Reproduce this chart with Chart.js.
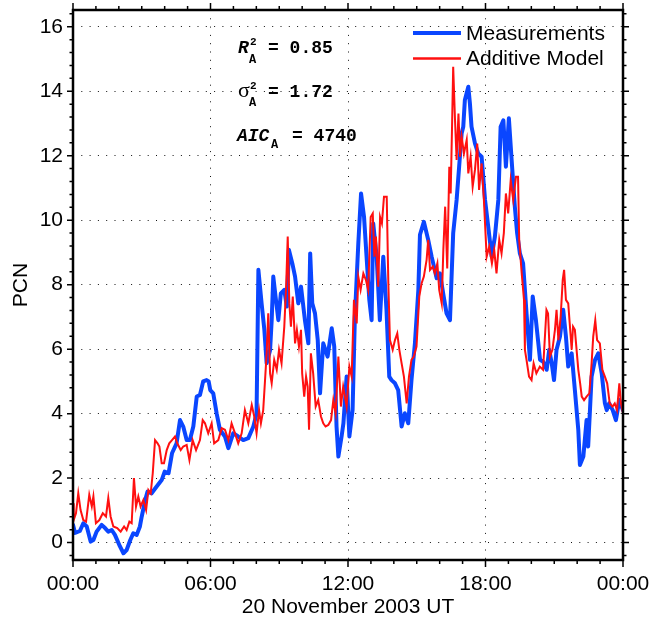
<!DOCTYPE html>
<html>
<head>
<meta charset="utf-8">
<script src="https://cdn.jsdelivr.net/npm/chart.js@4.4.0/dist/chart.umd.min.js"></script>
<style>
  html, body { margin: 0; padding: 0; background: #fff; }
</style>
</head>
<body>
<canvas id="chart" width="651" height="622"></canvas>
<script>
// PCN index, 20 November 2003 — measurements vs. additive model (hours UT)

const measTimes = [
  0.00, 0.09, 0.30, 0.45, 0.60, 0.77, 0.89, 1.03, 1.25, 1.40, 1.54, 1.69, 1.83, 2.05, 2.20, 2.34,
  2.50, 2.63, 2.78, 2.92, 3.00, 3.15, 3.25, 3.43, 3.65, 3.87, 4.00, 4.17, 4.32, 4.52, 4.67, 4.81,
  4.96, 5.10, 5.25, 5.40, 5.54, 5.68, 5.83, 5.92, 5.99, 6.12, 6.27, 6.41, 6.63, 6.78, 6.99, 7.21,
  7.43, 7.65, 7.87, 8.01, 8.09, 8.23, 8.35, 8.45, 8.60, 8.67, 8.74, 8.84, 8.96, 9.07, 9.22, 9.33,
  9.42, 9.57, 9.69, 9.83, 9.95, 10.12, 10.27, 10.35, 10.44, 10.56, 10.68, 10.78, 10.92, 11.11, 11.29, 11.40,
  11.50, 11.58, 11.72, 11.80, 11.94, 12.06, 12.20, 12.30, 12.45, 12.57, 12.70, 12.81, 12.93, 13.03, 13.10, 13.25,
  13.39, 13.54, 13.68, 13.80, 13.90, 14.05, 14.19, 14.34, 14.48, 14.63, 14.77, 14.92, 15.07, 15.14, 15.31, 15.50,
  15.65, 15.87, 16.01, 16.16, 16.30, 16.45, 16.52, 16.59, 16.74, 16.85, 16.96, 17.03, 17.10, 17.25, 17.32, 17.39,
  17.54, 17.68, 17.83, 17.98, 18.12, 18.27, 18.41, 18.56, 18.66, 18.78, 18.89, 19.02, 19.14, 19.28, 19.38, 19.50,
  19.64, 19.79, 19.94, 20.06, 20.20, 20.38, 20.52, 20.67, 20.78, 20.89, 20.99, 21.10, 21.25, 21.39, 21.51, 21.61,
  21.76, 21.90, 22.05, 22.12, 22.27, 22.41, 22.48, 22.63, 22.78, 22.92, 23.07, 23.21, 23.29, 23.40, 23.55, 23.69,
  23.84, 24.00
];
const measValues = [
  0.55, 0.30, 0.36, 0.60, 0.50, 0.03, 0.08, 0.34, 0.55, 0.45, 0.34, 0.39, 0.24, -0.12, -0.33, -0.23,
  0.08, 0.29, 0.24, 0.50, 0.81, 1.32, 1.58, 1.53, 1.74, 1.94, 2.20, 2.15, 2.77, 3.08, 3.80, 3.60,
  3.18, 3.18, 3.60, 4.53, 4.58, 5.00, 5.04, 5.00, 4.73, 4.63, 4.00, 3.50, 3.29, 2.93, 3.39, 3.29,
  3.18, 3.24, 3.60, 4.00, 8.46, 7.42, 6.60, 5.56, 5.97, 6.90, 8.25, 7.63, 6.90, 7.73, 7.84, 7.32,
  9.08, 8.66, 8.25, 7.42, 7.94, 6.90, 6.18, 8.97, 7.42, 7.11, 6.28, 4.63, 6.18, 5.77, 6.65, 6.08,
  3.60, 2.67, 3.29, 3.70, 5.15, 3.29, 4.11, 7.00, 9.28, 10.83, 10.10, 8.87, 7.53, 6.90, 9.90, 8.87,
  6.90, 8.87, 7.21, 5.15, 5.04, 4.94, 4.73, 3.60, 4.01, 3.70, 5.04, 6.18, 7.84, 9.55, 9.95, 9.39,
  8.87, 8.20, 8.35, 7.70, 7.11, 6.90, 8.25, 9.60, 10.63, 11.66, 12.70, 12.90, 13.73, 14.14, 13.62, 12.90,
  12.38, 12.07, 11.97, 10.63, 9.80, 8.87, 9.49, 10.63, 12.90, 13.10, 11.66, 13.16, 11.87, 10.42, 9.60, 8.97,
  8.66, 7.11, 5.67, 7.63, 6.90, 5.67, 5.61, 5.36, 5.98, 5.56, 5.04, 5.98, 6.39, 7.22, 6.39, 5.46,
  5.87, 4.73, 3.49, 2.41, 2.67, 3.80, 2.98, 5.15, 5.67, 5.87, 5.25, 4.32, 4.11, 4.32, 4.11, 3.80,
  4.42, 4.10
];

const modelTimes = [
  0.00, 0.03, 0.13, 0.23, 0.33, 0.45, 0.57, 0.71, 0.82, 0.89, 1.00, 1.15, 1.30, 1.44, 1.54, 1.64,
  1.76, 1.93, 2.08, 2.23, 2.34, 2.46, 2.56, 2.66, 2.75, 2.85, 2.95, 3.07, 3.19, 3.29, 3.39, 3.48,
  3.58, 3.69, 3.77, 3.87, 3.97, 4.09, 4.20, 4.32, 4.45, 4.55, 4.70, 4.81, 4.96, 5.08, 5.22, 5.37,
  5.54, 5.66, 5.76, 5.90, 6.05, 6.16, 6.34, 6.49, 6.63, 6.78, 6.92, 7.07, 7.21, 7.36, 7.50, 7.65,
  7.80, 7.91, 8.01, 8.12, 8.20, 8.30, 8.38, 8.45, 8.52, 8.60, 8.67, 8.78, 8.89, 8.99, 9.10, 9.22,
  9.30, 9.37, 9.44, 9.51, 9.59, 9.69, 9.77, 9.86, 9.95, 10.00, 10.09, 10.17, 10.24, 10.30, 10.38, 10.48,
  10.59, 10.70, 10.82, 10.92, 11.02, 11.14, 11.26, 11.36, 11.46, 11.58, 11.69, 11.79, 11.94, 12.06, 12.16, 12.26,
  12.38, 12.45, 12.55, 12.67, 12.78, 12.88, 12.99, 13.08, 13.15, 13.22, 13.32, 13.40, 13.48, 13.57, 13.69, 13.76,
  13.83, 13.95, 14.05, 14.15, 14.24, 14.34, 14.44, 14.56, 14.66, 14.77, 14.87, 14.99, 15.11, 15.21, 15.31, 15.43,
  15.50, 15.58, 15.70, 15.79, 15.90, 15.98, 16.09, 16.16, 16.24, 16.33, 16.42, 16.48, 16.54, 16.59, 16.67, 16.74,
  16.82, 16.89, 16.96, 17.06, 17.18, 17.25, 17.35, 17.44, 17.54, 17.64, 17.72, 17.83, 17.93, 18.05, 18.16, 18.28,
  18.38, 18.48, 18.60, 18.70, 18.80, 18.89, 18.99, 19.10, 19.21, 19.33, 19.42, 19.47, 19.58, 19.68, 19.72, 19.79,
  19.90, 20.01, 20.10, 20.22, 20.37, 20.51, 20.66, 20.73, 20.81, 20.92, 21.03, 21.10, 21.18, 21.28, 21.37, 21.43,
  21.51, 21.61, 21.76, 21.82, 21.90, 22.05, 22.13, 22.20, 22.30, 22.41, 22.53, 22.63, 22.70, 22.79, 22.87, 22.99,
  23.10, 23.21, 23.31, 23.42, 23.54, 23.64, 23.74, 23.84, 23.91, 24.00
];
const modelValues = [
  1.22, 0.70, 0.91, 1.53, 1.01, 0.70, 0.65, 1.48, 1.12, 1.43, 0.60, 0.70, 0.91, 0.81, 1.38, 0.81,
  0.50, 0.45, 0.34, 0.50, 0.39, 0.65, 0.60, 2.00, 1.12, 1.43, 1.12, 1.32, 1.01, 1.63, 1.53, 2.15,
  3.18, 3.08, 2.98, 2.46, 2.46, 2.87, 3.08, 3.18, 3.29, 3.08, 2.87, 2.98, 3.03, 2.56, 3.18, 2.87,
  3.18, 3.80, 3.70, 3.39, 3.70, 3.08, 3.18, 3.55, 3.50, 3.18, 3.70, 3.39, 3.08, 3.39, 4.11, 3.70,
  4.27, 3.91, 3.39, 4.11, 3.70, 4.11, 5.04, 5.87, 7.11, 5.25, 4.94, 5.67, 5.36, 5.98, 5.56, 6.70,
  7.94, 9.49, 7.42, 6.70, 7.63, 6.18, 6.60, 6.08, 6.60, 5.25, 4.53, 5.15, 4.84, 3.50, 5.87, 5.25,
  4.22, 4.42, 3.91, 3.70, 3.60, 3.65, 3.80, 4.42, 4.01, 5.77, 4.22, 4.84, 4.22, 5.46, 5.15, 7.53,
  6.80, 8.25, 7.84, 8.35, 8.15, 7.84, 10.10, 10.21, 8.87, 9.49, 7.94, 10.10, 9.90, 10.73, 10.73, 8.04,
  6.28, 5.98, 6.28, 6.49, 5.98, 5.56, 5.15, 4.32, 5.15, 5.67, 5.77, 6.08, 7.63, 8.04, 8.25, 8.77,
  9.39, 8.46, 8.56, 8.35, 8.66, 7.84, 7.42, 9.08, 10.42, 8.50, 11.66, 10.83, 12.90, 14.76, 13.10, 11.87,
  13.31, 11.97, 12.59, 12.07, 12.49, 11.45, 11.97, 11.04, 11.56, 12.38, 10.94, 11.76, 10.63, 8.87, 9.18, 8.66,
  9.08, 8.35, 9.39, 8.97, 9.60, 10.83, 10.21, 11.24, 10.63, 11.35, 11.35, 9.39, 8.35, 7.53, 5.98, 5.67,
  5.15, 5.04, 5.56, 5.25, 5.46, 5.36, 7.22, 7.11, 5.77, 5.98, 6.60, 7.22, 6.28, 7.01, 8.15, 8.46,
  7.53, 7.42, 5.98, 6.70, 6.60, 5.36, 4.94, 4.53, 4.42, 4.53, 4.63, 5.56, 6.39, 6.90, 6.28, 6.18,
  5.36, 5.15, 4.94, 4.32, 4.22, 4.32, 4.11, 4.94, 4.32, 4.01
];

const xTickHours = [0, 6, 12, 18, 24];
const xTickLabels = ['00:00', '06:00', '12:00', '18:00', '00:00'];
const yTickValues = [0, 2, 4, 6, 8, 10, 12, 14, 16];
const seriesNames = ['Measurements', 'Additive Model'];
const statValues = ['0.85', '1.72', '4740'];

const BLUE = '#0a46ff';
const RED = '#ff1010';
const SANS = '"Liberation Sans", Arial, sans-serif';
const MONO = '"Liberation Mono", "Courier New", monospace';

const toPoints = (ts, vs) => ts.map((t, i) => ({ x: t, y: vs[i] }));

// frame round the plot with outward ticks on all four sides
const frameTicks = {
  id: 'frameTicks',
  afterDraw(chart) {
    const { ctx, chartArea: a, scales: { x, y } } = chart;
    ctx.save();
    ctx.strokeStyle = '#000';
    ctx.lineWidth = 1.5;
    ctx.beginPath();
    for (let h = 0; h <= 24; h++) {
      const px = x.getPixelForValue(h);
      const len = h % 6 === 0 ? 7 : 4;
      ctx.moveTo(px, a.bottom); ctx.lineTo(px, a.bottom + len);
      ctx.moveTo(px, a.top); ctx.lineTo(px, a.top - len);
    }
    for (let k = -1; k <= 41; k++) {
      const py = y.getPixelForValue(k * 0.4);
      const len = k % 5 === 0 ? 6 : 3.5;
      ctx.moveTo(a.left, py); ctx.lineTo(a.left - len, py);
      ctx.moveTo(a.right, py); ctx.lineTo(a.right + len, py);
    }
    ctx.stroke();
    ctx.lineWidth = 2.5;
    ctx.strokeRect(a.left, a.top, a.right - a.left, a.bottom - a.top);
    ctx.restore();
  }
};

// fit statistics in the upper left
const statsText = {
  id: 'statsText',
  afterDraw(chart) {
    const { ctx, chartArea: a } = chart;
    const x0 = a.left + 165;
    ctx.save();
    ctx.fillStyle = '#000';
    ctx.textBaseline = 'alphabetic';
    // R^2_A
    ctx.font = 'italic bold 18px ' + MONO;
    ctx.fillText('R', x0, a.top + 43);
    ctx.font = 'bold 11px ' + MONO;
    ctx.fillText('2', x0 + 12, a.top + 35);
    ctx.font = 'bold 12px ' + MONO;
    ctx.fillText('A', x0 + 11, a.top + 53);
    ctx.font = 'bold 18px ' + MONO;
    ctx.fillText('= ' + statValues[0], x0 + 30, a.top + 43);
    // sigma^2_A
    ctx.font = '22px "Liberation Serif", serif';
    ctx.fillText('σ', x0, a.top + 87);
    ctx.font = 'bold 11px ' + MONO;
    ctx.fillText('2', x0 + 12, a.top + 79);
    ctx.font = 'bold 12px ' + MONO;
    ctx.fillText('A', x0 + 11, a.top + 96);
    ctx.font = 'bold 18px ' + MONO;
    ctx.fillText('= ' + statValues[1], x0 + 30, a.top + 87);
    // AIC_A
    ctx.font = 'italic bold 18px ' + MONO;
    ctx.fillText('AIC', x0 - 1, a.top + 131);
    ctx.font = 'bold 12px ' + MONO;
    ctx.fillText('A', x0 + 33, a.top + 138);
    ctx.font = 'bold 18px ' + MONO;
    ctx.fillText('= ' + statValues[2], x0 + 54, a.top + 131);
    ctx.restore();
  }
};

// legend inside the plot, top right
const insideLegend = {
  id: 'insideLegend',
  afterDraw(chart) {
    const { ctx, chartArea: a } = chart;
    const lx = a.right - 210;
    const rows = [
      { name: seriesNames[0], color: BLUE, width: 4, y: a.top + 23 },
      { name: seriesNames[1], color: RED, width: 2.5, y: a.top + 48.5 },
    ];
    ctx.save();
    ctx.font = '21px ' + SANS;
    ctx.textBaseline = 'middle';
    ctx.fillStyle = '#000';
    rows.forEach((r) => {
      ctx.strokeStyle = r.color;
      ctx.lineWidth = r.width;
      ctx.beginPath();
      ctx.moveTo(lx, r.y);
      ctx.lineTo(lx + 48, r.y);
      ctx.stroke();
      ctx.fillText(r.name, lx + 53, r.y + 1);
    });
    ctx.restore();
  }
};

new Chart(document.getElementById('chart'), {
  type: 'line',
  data: {
    datasets: [
      {
        label: seriesNames[0],
        data: toPoints(measTimes, measValues),
        borderColor: BLUE,
        borderWidth: 4,
        borderJoinStyle: 'round',
        borderCapStyle: 'round',
        pointRadius: 0,
        tension: 0,
        order: 2,
      },
      {
        label: seriesNames[1],
        data: toPoints(modelTimes, modelValues),
        borderColor: RED,
        borderWidth: 2,
        pointRadius: 0,
        tension: 0,
        order: 1,
      },
    ],
  },
  options: {
    responsive: false,
    devicePixelRatio: 1,
    animation: false,
    layout: { padding: { top: 10, right: 28, left: 0, bottom: 0 } },
    scales: {
      x: {
        type: 'linear',
        min: 0,
        max: 24,
        afterBuildTicks: (s) => { s.ticks = xTickHours.map((v) => ({ value: v })); },
        afterFit: (s) => { s.height = 62; s.paddingLeft = 0; s.paddingRight = 0; },
        ticks: {
          color: '#000',
          font: { family: SANS, size: 21 },
          padding: 12,
          maxRotation: 0,
          autoSkip: false,
          callback: (v, i) => xTickLabels[i],
        },
        grid: { color: '#111', lineWidth: 1, drawTicks: false },
        border: { display: false, dash: [1, 7.3] },
        title: {
          display: true,
          text: '20 November 2003 UT',
          color: '#000',
          font: { family: SANS, size: 21 },
          padding: { top: 0, bottom: 2 },
        },
      },
      y: {
        type: 'linear',
        min: -0.54,
        max: 16.52,
        afterBuildTicks: (s) => { s.ticks = yTickValues.map((v) => ({ value: v })); },
        afterFit: (s) => { s.width = 73; s.paddingTop = 0; s.paddingBottom = 0; },
        ticks: {
          color: '#000',
          font: { family: SANS, size: 21 },
          padding: 10,
          autoSkip: false,
        },
        grid: { color: '#111', lineWidth: 1, drawTicks: false },
        border: { display: false, dash: [1, 7.3] },
        title: {
          display: true,
          text: 'PCN',
          color: '#000',
          font: { family: SANS, size: 21 },
          padding: { top: 9, bottom: 0 },
        },
      },
    },
    plugins: {
      legend: { display: false },
      tooltip: { enabled: false },
    },
  },
  plugins: [frameTicks, statsText, insideLegend],
});
</script>
</body>
</html>
